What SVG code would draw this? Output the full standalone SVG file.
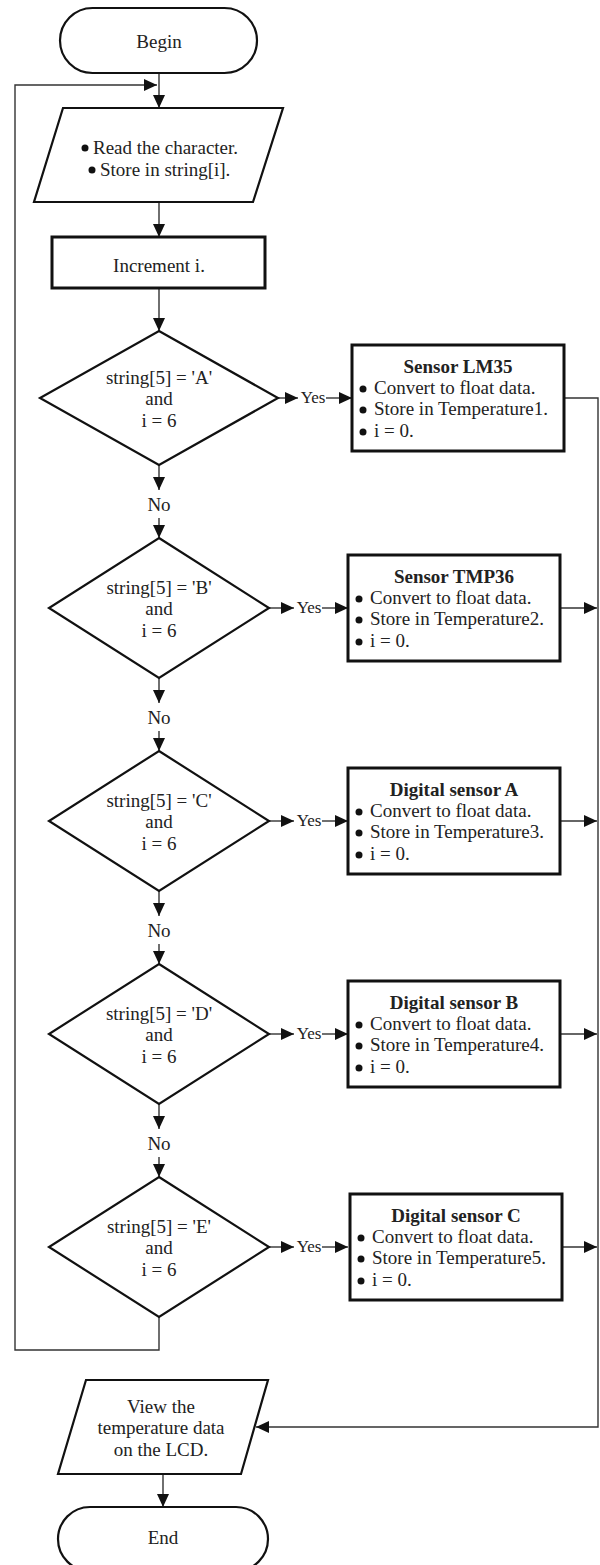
<svg xmlns="http://www.w3.org/2000/svg" width="600" height="1565" viewBox="0 0 600 1565">
<style>
text{font-family:"Liberation Serif","Times New Roman",serif;font-size:19px;fill:#222}
.c{text-anchor:middle}
.b{font-weight:bold}
.y{font-size:17px;text-anchor:middle}
.shape{fill:#fff;stroke:#111;stroke-width:2.2}
.box{fill:#fff;stroke:#111;stroke-width:3}
.ln{fill:none;stroke:#333;stroke-width:1.4}
.a{marker-end:url(#ah)}
.dot{fill:#111}
</style>
<defs>
<marker id="ah" markerUnits="userSpaceOnUse" markerWidth="13" markerHeight="12" refX="13" refY="6" orient="auto">
<path d="M0,0 L13,6 L0,12 z" fill="#111"/>
</marker>
</defs>

<g id="connectors">
<path class="ln a" d="M159,73 V108"/>
<path class="ln a" d="M159,1317 V1350 H15 V85 H157"/>
<path class="ln a" d="M159,202 V237"/>
<path class="ln a" d="M159,288 V331"/>
<!-- No branches -->
<path class="ln a" d="M159,465 V490"/><text class="c" x="159" y="511">No</text><path class="ln a" d="M159,518 V538"/>
<path class="ln a" d="M159,678 V703"/><text class="c" x="159" y="724">No</text><path class="ln a" d="M159,731 V751"/>
<path class="ln a" d="M159,891 V916"/><text class="c" x="159" y="937">No</text><path class="ln a" d="M159,944 V964"/>
<path class="ln a" d="M159,1104 V1129"/><text class="c" x="159" y="1150">No</text><path class="ln a" d="M159,1157 V1177"/>
<!-- Yes branches -->
<path class="ln a" d="M278,398 H298"/><text class="y" x="313" y="403">Yes</text><path class="ln a" d="M326,398 H352"/>
<path class="ln a" d="M269,608 H294"/><text class="y" x="309" y="613">Yes</text><path class="ln a" d="M322,608 H348"/>
<path class="ln a" d="M269,821 H294"/><text class="y" x="309" y="826">Yes</text><path class="ln a" d="M322,821 H348"/>
<path class="ln a" d="M269,1034 H294"/><text class="y" x="309" y="1039">Yes</text><path class="ln a" d="M322,1034 H348"/>
<path class="ln a" d="M269,1247 H294"/><text class="y" x="309" y="1252">Yes</text><path class="ln a" d="M322,1247 H348"/>
<!-- box exits -->
<path class="ln a" d="M564,398 H598 V1427 H256"/>
<path class="ln a" d="M560,608 H597"/>
<path class="ln a" d="M560,821 H597"/>
<path class="ln a" d="M560,1034 H597"/>
<path class="ln a" d="M560,1247 H597"/>
<path class="ln a" d="M163,1474 V1507"/>
</g>

<g id="begin">
<rect class="shape" x="60" y="8" width="197" height="65" rx="32.5" ry="32.5"/>
<text class="c" x="159" y="48">Begin</text>
</g>

<g id="read">
<polygon class="shape" points="63,108 283,108 253,202 34,202"/>
<circle class="dot" cx="85" cy="148" r="3.5"/>
<text x="93" y="154">Read the character.</text>
<circle class="dot" cx="92" cy="170" r="3.5"/>
<text x="100" y="176">Store in string[i].</text>
</g>

<g id="increment">
<rect class="box" x="52" y="237" width="213" height="51"/>
<text class="c" x="159" y="272">Increment i.</text>
</g>

<g id="decision1">
<polygon class="shape" points="159,331 278,398 159,465 40,398"/>
<text class="c" x="159" y="384">string[5] = 'A'</text>
<text class="c" x="159" y="405">and</text>
<text class="c" x="159" y="427">i = 6</text>
</g>
<g id="box1">
<rect class="box" x="352" y="345" width="212" height="106"/>
<text class="c b" x="458" y="373">Sensor LM35</text>
<circle class="dot" cx="363" cy="389" r="3.5"/><text x="374" y="394">Convert to float data.</text>
<circle class="dot" cx="363" cy="410" r="3.5"/><text x="374" y="415">Store in Temperature1.</text>
<circle class="dot" cx="363" cy="432" r="3.5"/><text x="374" y="437">i = 0.</text>
</g>

<g id="decision2">
<polygon class="shape" points="159,538 269,608 159,678 49,608"/>
<text class="c" x="159" y="594">string[5] = 'B'</text>
<text class="c" x="159" y="615">and</text>
<text class="c" x="159" y="637">i = 6</text>
</g>
<g id="box2">
<rect class="box" x="348" y="555" width="212" height="106"/>
<text class="c b" x="454" y="583">Sensor TMP36</text>
<circle class="dot" cx="359" cy="599" r="3.5"/><text x="370" y="604">Convert to float data.</text>
<circle class="dot" cx="359" cy="620" r="3.5"/><text x="370" y="625">Store in Temperature2.</text>
<circle class="dot" cx="359" cy="642" r="3.5"/><text x="370" y="647">i = 0.</text>
</g>

<g id="decision3">
<polygon class="shape" points="159,751 269,821 159,891 49,821"/>
<text class="c" x="159" y="807">string[5] = 'C'</text>
<text class="c" x="159" y="828">and</text>
<text class="c" x="159" y="850">i = 6</text>
</g>
<g id="box3">
<rect class="box" x="348" y="768" width="212" height="106"/>
<text class="c b" x="454" y="796">Digital sensor A</text>
<circle class="dot" cx="359" cy="812" r="3.5"/><text x="370" y="817">Convert to float data.</text>
<circle class="dot" cx="359" cy="833" r="3.5"/><text x="370" y="838">Store in Temperature3.</text>
<circle class="dot" cx="359" cy="855" r="3.5"/><text x="370" y="860">i = 0.</text>
</g>

<g id="decision4">
<polygon class="shape" points="159,964 269,1034 159,1104 49,1034"/>
<text class="c" x="159" y="1020">string[5] = 'D'</text>
<text class="c" x="159" y="1041">and</text>
<text class="c" x="159" y="1063">i = 6</text>
</g>
<g id="box4">
<rect class="box" x="348" y="981" width="212" height="106"/>
<text class="c b" x="454" y="1009">Digital sensor B</text>
<circle class="dot" cx="359" cy="1025" r="3.5"/><text x="370" y="1030">Convert to float data.</text>
<circle class="dot" cx="359" cy="1046" r="3.5"/><text x="370" y="1051">Store in Temperature4.</text>
<circle class="dot" cx="359" cy="1068" r="3.5"/><text x="370" y="1073">i = 0.</text>
</g>

<g id="decision5">
<polygon class="shape" points="159,1177 269,1247 159,1317 49,1247"/>
<text class="c" x="159" y="1233">string[5] = 'E'</text>
<text class="c" x="159" y="1254">and</text>
<text class="c" x="159" y="1276">i = 6</text>
</g>
<g id="box5">
<rect class="box" x="350" y="1194" width="212" height="106"/>
<text class="c b" x="456" y="1222">Digital sensor C</text>
<circle class="dot" cx="361" cy="1238" r="3.5"/><text x="372" y="1243">Convert to float data.</text>
<circle class="dot" cx="361" cy="1259" r="3.5"/><text x="372" y="1264">Store in Temperature5.</text>
<circle class="dot" cx="361" cy="1281" r="3.5"/><text x="372" y="1286">i = 0.</text>
</g>

<g id="view">
<polygon class="shape" points="86,1380 268,1380 241,1474 58,1474"/>
<text class="c" x="161" y="1413">View the</text>
<text class="c" x="161" y="1434">temperature data</text>
<text class="c" x="161" y="1456">on the LCD.</text>
</g>

<g id="end">
<rect class="shape" x="58" y="1507" width="210" height="64" rx="32" ry="32"/>
<text class="c" x="163" y="1544">End</text>
</g>
</svg>
